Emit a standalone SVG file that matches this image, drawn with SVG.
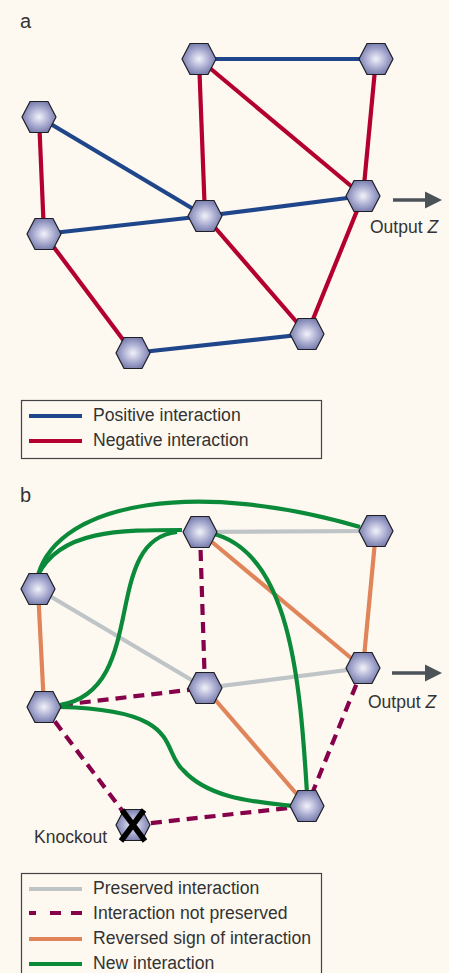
<svg xmlns="http://www.w3.org/2000/svg" width="449" height="973" viewBox="0 0 449 973">
<defs>
<radialGradient id="hg" cx="0.5" cy="0.5" r="0.55">
<stop offset="0" stop-color="#f2f2fa"/>
<stop offset="0.55" stop-color="#a9acd0"/>
<stop offset="1" stop-color="#6f75a6"/>
</radialGradient>
<polygon id="hex" points="-17,0 -9,-15.5 9,-15.5 17,0 9,15.5 -9,15.5" fill="url(#hg)" stroke="#1e1e24" stroke-width="1.2"/>
<marker id="ah" viewBox="0 0 10 10" refX="2" refY="5" markerWidth="5" markerHeight="5" orient="auto" markerUnits="strokeWidth">
<path d="M0,0 L10,5 L0,10 z" fill="#4b5359"/>
</marker>
</defs>
<style>
.bg{fill:#fdf9f1}
.e{fill:none;stroke-width:4.2;stroke-linecap:butt}
.pos{stroke:#1f468a}
.neg{stroke:#b4002e}
.pre{stroke:#bfc4c7}
.np{stroke:#86004a;stroke-dasharray:11 7}
.rev{stroke:#e0845a}
.new{stroke:#0b8a3a}
.arr{stroke:#4b5359;stroke-width:3.5;fill:none}
.t{font-family:"Liberation Sans",Arial,sans-serif;fill:#333}
.lbl{font-size:20px}
.leg{font-size:17.6px}
.out{font-size:17.5px}
.box{fill:none;stroke:#444;stroke-width:1.2}
</style>
<rect class="bg" x="0" y="0" width="449" height="973"/>

<text class="t lbl" x="20" y="28">a</text>

<g id="connectors-a">
<line class="e pos" x1="199" y1="59" x2="376" y2="59"/>
<line class="e neg" x1="199" y1="59" x2="205" y2="216"/>
<line class="e neg" x1="199" y1="59" x2="363" y2="196"/>
<line class="e neg" x1="376" y1="59" x2="363" y2="196"/>
<line class="e neg" x1="39" y1="117" x2="44" y2="234"/>
<line class="e pos" x1="39" y1="117" x2="205" y2="216"/>
<line class="e pos" x1="44" y1="234" x2="205" y2="216"/>
<line class="e pos" x1="205" y1="216" x2="363" y2="196"/>
<line class="e neg" x1="44" y1="234" x2="133" y2="353"/>
<line class="e neg" x1="205" y1="216" x2="307" y2="334"/>
<line class="e neg" x1="363" y1="196" x2="307" y2="334"/>
<line class="e pos" x1="133" y1="353" x2="307" y2="334"/>
<line class="arr" x1="393" y1="200" x2="428" y2="200" marker-end="url(#ah)"/>
</g>

<g id="a1"><use href="#hex" x="199" y="59"/></g>
<g id="a2"><use href="#hex" x="376" y="59"/></g>
<g id="a3"><use href="#hex" x="39" y="117"/></g>
<g id="a4"><use href="#hex" x="205" y="216"/></g>
<g id="a5"><use href="#hex" x="363" y="196"/></g>
<g id="a6"><use href="#hex" x="44" y="234"/></g>
<g id="a7"><use href="#hex" x="133" y="353"/></g>
<g id="a8"><use href="#hex" x="307" y="334"/></g>

<text class="t out" x="370" y="233">Output <tspan font-style="italic">Z</tspan></text>

<g id="legend-a">
<rect class="box" x="21.5" y="400.5" width="300" height="58"/>
<line class="e pos" x1="29" y1="416" x2="82" y2="416"/>
<line class="e neg" x1="29" y1="441" x2="82" y2="441"/>
<text class="t leg" x="93" y="421">Positive interaction</text>
<text class="t leg" x="93" y="446">Negative interaction</text>
</g>

<text class="t lbl" x="20" y="502">b</text>

<g id="connectors-b">
<line class="e pre" x1="200" y1="532" x2="376" y2="531"/>
<line class="e np" x1="200" y1="532" x2="205" y2="688"/>
<line class="e rev" x1="200" y1="532" x2="363" y2="668"/>
<line class="e rev" x1="376" y1="531" x2="363" y2="668"/>
<line class="e rev" x1="38" y1="589" x2="44" y2="707"/>
<line class="e pre" x1="38" y1="589" x2="205" y2="688"/>
<line class="e np" x1="44" y1="707" x2="205" y2="688"/>
<line class="e pre" x1="205" y1="688" x2="363" y2="668"/>
<line class="e np" x1="44" y1="707" x2="133" y2="825"/>
<line class="e rev" x1="205" y1="688" x2="307" y2="806"/>
<line class="e np" x1="363" y1="668" x2="307" y2="806"/>
<line class="e np" x1="133" y1="825" x2="307" y2="806"/>
<path class="e new" d="M38,575 C60,500 200,480 360,527"/>
<path class="e new" d="M38,575 C60,530 120,530 182,530"/>
<path class="e new" d="M60,705 C150,690 100,540 177,532"/>
<path class="e new" d="M210,533 C290,550 300,680 307,793"/>
<path class="e new" d="M60,707 C185,710 160,750 183,770 C210,800 260,802 292,806"/>
<line class="arr" x1="392" y1="673" x2="428" y2="673" marker-end="url(#ah)"/>
</g>

<g id="b1"><use href="#hex" x="200" y="532"/></g>
<g id="b2"><use href="#hex" x="376" y="531"/></g>
<g id="b3"><use href="#hex" x="38" y="589"/></g>
<g id="b4"><use href="#hex" x="205" y="688"/></g>
<g id="b5"><use href="#hex" x="363" y="668"/></g>
<g id="b6"><use href="#hex" x="44" y="707"/></g>
<g id="b7"><use href="#hex" x="133" y="825"/>
<path d="M122,810 L145,841 M144,810 L121,841" stroke="#000" stroke-width="5.5" fill="none"/>
</g>
<g id="b8"><use href="#hex" x="307" y="806"/></g>

<text class="t out" x="368" y="708">Output <tspan font-style="italic">Z</tspan></text>
<text class="t out" x="107" y="843" text-anchor="end">Knockout</text>

<g id="legend-b">
<rect class="box" x="21.5" y="873.5" width="300" height="110"/>
<line class="e pre" x1="29" y1="889" x2="82" y2="889"/>
<line class="e np" x1="29" y1="913" x2="82" y2="913" style="stroke-dasharray:7 14 11 10 11 10"/>
<line class="e rev" x1="29" y1="939" x2="82" y2="939"/>
<line class="e new" x1="29" y1="964" x2="82" y2="964"/>
<text class="t leg" x="93" y="894">Preserved interaction</text>
<text class="t leg" x="93" y="919">Interaction not preserved</text>
<text class="t leg" x="93" y="944">Reversed sign of interaction</text>
<text class="t leg" x="93" y="969">New interaction</text>
</g>
</svg>
